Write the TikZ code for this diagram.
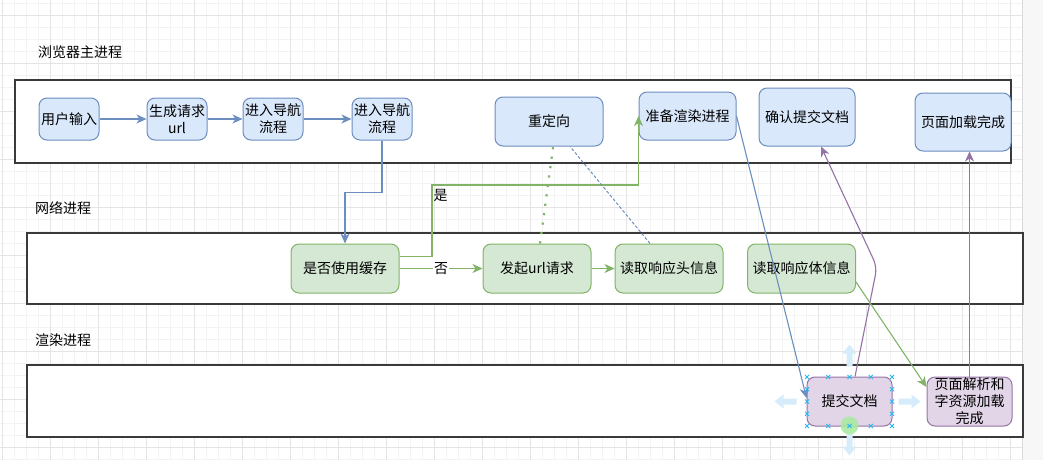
\documentclass[tikz,border=0pt]{standalone}
\usepackage{fontspec}
\usepackage{tikz}
\usetikzlibrary{arrows.meta, positioning, calc}
\newfontfamily\cjk{Noto Sans CJK SC}
\definecolor{BlueFill}  {HTML}{DAE8FC}
\definecolor{Blue}      {HTML}{6C8EBF}
\definecolor{GreenFill} {HTML}{D5E8D4}
\definecolor{Green}     {HTML}{82B366}
\definecolor{PurpleFill}{HTML}{E1D5E7}
\definecolor{Purple}    {HTML}{9673A6}
\definecolor{Lane}      {HTML}{3A3A3A}
\definecolor{GridMinor} {HTML}{F3F3F3}
\definecolor{GridMajor} {HTML}{E4E4E4}
\definecolor{Handle}    {HTML}{29B6F2}
\definecolor{Hint}      {HTML}{D6ECFB}
\definecolor{Dot}       {HTML}{A6EB9E}
\tikzset{
  blk/.style={draw, rounded corners=8pt, align=center, inner sep=0pt, line width=1pt,
              font=\cjk\fontsize{14}{17}\selectfont},
  bblk/.style={blk, fill=BlueFill, draw=Blue},
  gblk/.style={blk, fill=GreenFill, draw=Green},
  pblk/.style={blk, fill=PurpleFill, draw=Purple},
  lane/.style={draw=Lane, line width=1.5pt, fill=white},
  ttl/.style={anchor=west, inner sep=0pt, font=\cjk\fontsize{14}{17}\selectfont},
  lbl/.style={inner sep=1pt, text=black, font=\cjk\fontsize{14}{17}\selectfont},
  hdl/.style={draw=Handle, line width=0.8pt},
  arr/.style={-{Stealth[length=10pt,width=9pt,inset=3pt]}, line width=1.1pt}
}

\begin{document}
\begin{tikzpicture}[x=1pt, y=-1pt]
  \useasboundingbox (0,0) rectangle (1043,460);
  % canvas and grid
  \fill[white] (0,0) rectangle (1023,460);
  \fill[gray!6] (1023,0) rectangle (1043,460);
  \foreach \i in {0,...,85}{ \draw[GridMinor, line width=0.8pt] ({2.7+12*\i},0) -- ++(0,460); }
  \foreach \j in {0,...,38}{ \draw[GridMinor, line width=0.8pt] (0,{3.7+12*\j}) -- (1023,{3.7+12*\j}); }
  \foreach \i in {0,...,21}{ \draw[GridMajor, line width=0.8pt] ({2.7+48*\i},0) -- ++(0,460); }
  \foreach \j in {0,...,9}{ \draw[GridMajor, line width=0.8pt] (0,{15.7+48*\j}) -- (1023,{15.7+48*\j}); }
  \draw[gray!30, line width=0.8pt] (1022,0) -- (1022,460);

  % lanes
  \node[ttl] (t1) at (38,52.5) {浏览器主进程};
  \node[ttl] (t2) at (35,208) {网络进程};
  \node[ttl] (t3) at (35,340) {渲染进程};
  \draw[lane] (15,80) rectangle (1011,163);
  \draw[lane] (27,233) rectangle (1023,304);
  \draw[lane] (27,365) rectangle (1023,437);

  % browser process
  \node[bblk, minimum width=60pt, minimum height=42pt] (ui)   at (69,119)  {用户输入};
  \node[bblk, minimum width=60pt, minimum height=42pt] (req)  at (177,119) {生成请求\\url};
  \node[bblk, minimum width=60pt, minimum height=42pt] (nav1) at (273,119) {进入导航\\流程};
  \node[bblk, minimum width=60pt, minimum height=42pt] (nav2) at (382,119) {进入导航\\流程};
  \node[bblk, minimum width=108pt, minimum height=49pt] (redir) at (549,121.5) {重定向};
  \node[bblk, minimum width=97pt, minimum height=48pt]  (prep)  at (687.5,116) {准备渲染进程};
  \node[bblk, minimum width=96pt, minimum height=58pt]  (conf)  at (807,117)   {确认提交文档};
  \node[bblk, minimum width=96pt, minimum height=58pt]  (done)  at (963,122)   {页面加载完成};

  % network process
  \node[gblk, minimum width=108pt, minimum height=49pt] (cache) at (345,268.5)   {是否使用缓存};
  \node[gblk, minimum width=108pt, minimum height=49pt] (fetch) at (537,268.5)   {发起url请求};
  \node[gblk, minimum width=108pt, minimum height=49pt] (head)  at (669,268.5)   {读取响应头信息};
  \node[gblk, minimum width=108pt, minimum height=49pt] (body)  at (801.5,268.5) {读取响应体信息};

  % renderer process
  \node[pblk, minimum width=85pt, minimum height=49pt] (commit) at (849.5,401.5) {提交文档};
  \node[pblk, minimum width=85pt, minimum height=49pt] (parse)  at (969.5,401.5) {页面解析和\\字资源加载\\完成};

  % connectors
  \draw[arr, Blue] (ui) -- (req);
  \draw[arr, Blue] (req) -- (nav1);
  \draw[arr, Blue] (nav1) -- (nav2);
  \draw[arr, Blue] (nav2.south) -- ++(0,52) -| (cache.north);
  \draw[arr, Green] (cache) -- node[lbl, fill=white]{否} (fetch);
  \draw[arr, Green] ([yshift=12pt]cache.east) -| (432,185)
    node[lbl, anchor=north west, yshift=-3pt]{是} -| (prep.west);
  \draw[arr, Green] (fetch) -- (head);
  \draw[Green, line width=2.2pt, dash pattern=on 2.2pt off 7.3pt]
    ([xshift=3pt]fetch.north) -- ([xshift=5pt,yshift=6pt]redir.south);
  \draw[Blue, line width=1pt, dash pattern=on 3pt off 2pt]
    ([xshift=-19pt]head.north) -- ([xshift=21pt]redir.south);
  \draw[arr, Blue] (prep.east) -- ([yshift=3.5pt]commit.west);
  \draw[arr, Purple, rounded corners=8pt] ([xshift=5.5pt]commit.north) -- (877,267)
    -- ([xshift=14pt]conf.south);
  \draw[arr, Purple] (parse.north) -- (parse.north |- done.south);
  \draw[arr, Green] ([yshift=-13.5pt]body.east) -- ([yshift=14.5pt]parse.west);

  % selection handles on the commit node
  \foreach \ang/\s/\e in {0/49/71, 90/35/57, 180/53/75, 270/32/54}{
    \fill[Hint, shift={(commit.center)}, rotate=\ang] (\s,-3) -- ({\e-9},-3) -- ({\e-9},-7)
      -- (\e,0) -- ({\e-9},7) -- ({\e-9},3) -- (\s,3) -- cycle;
  }
  \fill[Dot, opacity=0.85] ([yshift=1pt]commit.south) circle (9pt);
  \foreach \px in {0,...,4}{ \foreach \py in {0,4}{
    \draw[hdl] ({807+21.25*\px-2},{377+12.25*\py-2}) -- ++(4,4) ++(0,-4) -- ++(-4,4); } }
  \foreach \px in {0,4}{ \foreach \py in {1,2,3}{
    \draw[hdl] ({807+21.25*\px-2},{377+12.25*\py-2}) -- ++(4,4) ++(0,-4) -- ++(-4,4); } }
\end{tikzpicture}
\end{document}
